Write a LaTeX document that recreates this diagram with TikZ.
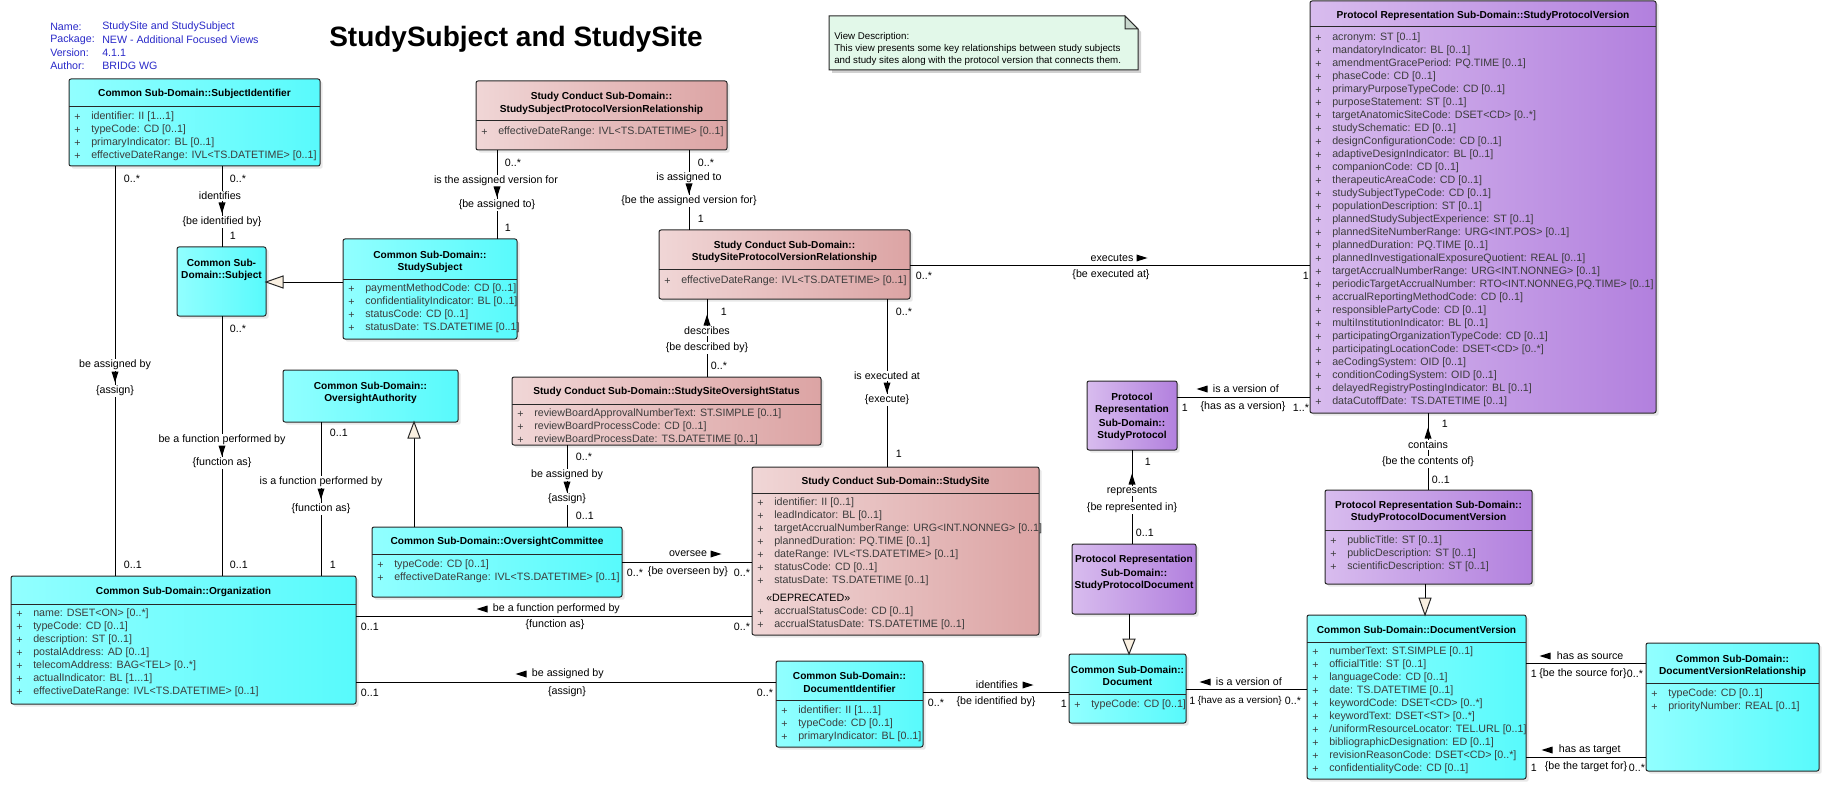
\documentclass[tikz,border=0pt]{standalone}
\usepackage{fontspec}
\setmainfont{Liberation Sans}
\usetikzlibrary{shadows}
\definecolor{cyL}{RGB}{145,255,255}
\definecolor{cyR}{RGB}{88,250,252}
\definecolor{pkL}{RGB}{240,214,214}
\definecolor{pkR}{RGB}{220,164,164}
\definecolor{puL}{RGB}{216,188,238}
\definecolor{puR}{RGB}{178,128,222}
\definecolor{bord}{RGB}{40,40,40}
\definecolor{attrc}{RGB}{60,60,60}
\definecolor{hdrblue}{RGB}{40,40,200}
\definecolor{notefill}{RGB}{226,248,233}
\definecolor{notefold}{RGB}{200,215,205}
\definecolor{genfill}{RGB}{250,240,225}
\tikzset{
 umlbase/.style={draw=bord, line width=0.75pt, rounded corners=1.5pt, inner sep=0pt, outer sep=0pt, anchor=north west, drop shadow={shadow xshift=2pt, shadow yshift=-2pt, fill=black!18}},
 cybox/.style={umlbase, left color=cyL, right color=cyR},
 pkbox/.style={umlbase, left color=pkL, right color=pkR},
 pubox/.style={umlbase, left color=puL, right color=puR},
 lbl/.style={font=\fontsize{8}{9.6}\selectfont, inner sep=0.5pt},
 ttl/.style={font=\fontsize{7.6}{9}\selectfont\bfseries, inner sep=0pt},
 att/.style={font=\fontsize{8}{9.6}\selectfont, text=attrc, inner sep=0pt, anchor=west},
 hdr/.style={anchor=west, text=hdrblue, inner sep=0pt},
 notet/.style={font=\fontsize{7.3}{9}\selectfont, anchor=west, inner sep=0pt},
 bigtitle/.style={anchor=base west, font=\fontsize{21}{25}\selectfont\bfseries, inner sep=0pt},
 vlbl/.style={fill=white},
 mult/.style={anchor=west},
 conn/.style={draw=black, line width=0.75pt},
 sepline/.style={draw=bord, line width=0.75pt},
 genarrow/.style={draw=bord, line width=0.75pt, fill=genfill},
}
\newcounter{nn}
\newcommand\tlab[3][]{\stepcounter{nn}\node[lbl,#1] (n\thenn) at (#2) {#3};}
\newcommand\umlbox[6]{\node[#6, minimum width={(#4-#2)*0.75pt}, minimum height={(#5-#3)*0.75pt}] (#1) at (#2,#3) {};}
\newcommand\umlsep[2]{\draw[sepline] (#1.west |- 0,#2) -- (#1.east |- 0,#2);}
\newcommand\umlattrs[3]{\foreach \attx [count=\i from 0] in {#3}{\tlab[att]{{#1+5},{#2+13*\i}}{+}\tlab[att]{{#1+22},{#2+13*\i}}{\attx}}}
\newcommand\umlAD[2]{\fill ({#1-3.5},{#2-5.5}) -- ({#1+3.5},{#2-5.5}) -- (#1,{#2+5.5}) -- cycle;}
\newcommand\umlAU[2]{\fill ({#1-3.5},{#2+5.5}) -- ({#1+3.5},{#2+5.5}) -- (#1,{#2-5.5}) -- cycle;}
\newcommand\umlAR[2]{\fill ({#1-5.5},{#2-3.5}) -- ({#1-5.5},{#2+3.5}) -- ({#1+5.5},#2) -- cycle;}
\newcommand\umlAL[2]{\fill ({#1+5.5},{#2-3.5}) -- ({#1+5.5},{#2+3.5}) -- ({#1-5.5},#2) -- cycle;}
\begin{document}
\begin{tikzpicture}[x=0.75pt,y=-0.75pt]
\useasboundingbox (0,0) rectangle (1830,809);
% header
\tlab[hdr]{50,27}{Name:}
\tlab[hdr]{102,27}{StudySite and StudySubject}
\tlab[hdr]{50,40}{Package:}
\tlab[hdr]{102,40}{NEW - Additional Focused Views}
\tlab[hdr]{50,53}{Version:}
\tlab[hdr]{102,53}{4.1.1}
\tlab[hdr]{50,66}{Author:}
\tlab[hdr]{102,66}{BRIDG WG}
\tlab[bigtitle]{329,47}{StudySubject and StudySite}
% note
\fill[black!18] (832,19) -- (1128,19) -- (1141,32) -- (1141,73) -- (832,73) -- cycle;
\draw[draw=bord, line width=0.75pt, fill=notefill] (829,16) -- (1125,16) -- (1138,29) -- (1138,70) -- (829,70) -- cycle;
\draw[draw=bord, line width=0.75pt, fill=notefold] (1125,16) -- (1125,29) -- (1138,29) -- cycle;
\tlab[notet]{834,37}{View Description:}
\tlab[notet]{834,49}{This view presents some key relationships between study subjects}
\tlab[notet]{834,61}{and study sites along with the protocol version that connects them.}
% SubjectIdentifier
\umlbox{si}{69}{79}{320}{166}{cybox}
\umlsep{si}{107}
\tlab[ttl]{si.north |- 0,94}{Common Sub-Domain::SubjectIdentifier}
\umlattrs{69}{117}{%
identifier: II [1..{}.1],%
typeCode: CD [0..1],%
primaryIndicator: BL [0..1],%
effectiveDateRange: IVL<TS.DATETIME> [0..1]}
% Subject
\umlbox{subj}{177}{247}{266}{316}{cybox}
\tlab[ttl]{subj.north |- 0,263}{Common Sub-}
\tlab[ttl]{subj.north |- 0,276}{Domain::Subject}
% StudySubject
\umlbox{ssub}{343}{239}{517}{339}{cybox}
\umlsep{ssub}{279}
\tlab[ttl]{ssub.north |- 0,255}{Common Sub-Domain::}
\tlab[ttl]{ssub.north |- 0,268}{StudySubject}
\umlattrs{343}{289}{%
paymentMethodCode: CD [0..1],%
confidentialityIndicator: BL [0..1],%
statusCode: CD [0..1],%
statusDate: TS.DATETIME [0..1]}
% StudySubjectProtocolVersionRelationship
\umlbox{sspvr}{476}{81}{727}{150}{pkbox}
\umlsep{sspvr}{121}
\tlab[ttl]{sspvr.north |- 0,97}{Study Conduct Sub-Domain::}
\tlab[ttl]{sspvr.north |- 0,110}{StudySubjectProtocolVersionRelationship}
\umlattrs{476}{132}{effectiveDateRange: IVL<TS.DATETIME> [0..1]}
% StudySiteProtocolVersionRelationship
\umlbox{ssitepvr}{659}{230}{910}{299}{pkbox}
\umlsep{ssitepvr}{270}
\tlab[ttl]{ssitepvr.north |- 0,246}{Study Conduct Sub-Domain::}
\tlab[ttl]{ssitepvr.north |- 0,258}{StudySiteProtocolVersionRelationship}
\umlattrs{659}{281}{effectiveDateRange: IVL<TS.DATETIME> [0..1]}
% StudyProtocolVersion
\umlbox{spv}{1310}{1}{1656}{413}{pubox}
\umlsep{spv}{27}
\tlab[ttl]{spv.north |- 0,16}{Protocol Representation Sub-Domain::StudyProtocolVersion}
\umlattrs{1310}{38}{%
acronym: ST [0..1],%
mandatoryIndicator: BL [0..1],%
amendmentGracePeriod: PQ.TIME [0..1],%
phaseCode: CD [0..1],%
primaryPurposeTypeCode: CD [0..1],%
purposeStatement: ST [0..1],%
targetAnatomicSiteCode: DSET<CD> [0..*],%
studySchematic: ED [0..1],%
designConfigurationCode: CD [0..1],%
adaptiveDesignIndicator: BL [0..1],%
companionCode: CD [0..1],%
therapeuticAreaCode: CD [0..1],%
studySubjectTypeCode: CD [0..1],%
populationDescription: ST [0..1],%
plannedStudySubjectExperience: ST [0..1],%
plannedSiteNumberRange: URG<INT.POS> [0..1],%
plannedDuration: PQ.TIME [0..1],%
plannedInvestigationalExposureQuotient: REAL [0..1],%
targetAccrualNumberRange: URG<INT.NONNEG> [0..1],%
{periodicTargetAccrualNumber: RTO<INT.NONNEG,PQ.TIME> [0..1]},%
accrualReportingMethodCode: CD [0..1],%
responsiblePartyCode: CD [0..1],%
multiInstitutionIndicator: BL [0..1],%
participatingOrganizationTypeCode: CD [0..1],%
participatingLocationCode: DSET<CD> [0..*],%
aeCodingSystem: OID [0..1],%
conditionCodingSystem: OID [0..1],%
delayedRegistryPostingIndicator: BL [0..1],%
dataCutoffDate: TS.DATETIME [0..1]}
% StudyProtocol
\umlbox{sp}{1087}{381}{1177}{450}{pubox}
\tlab[ttl]{sp.north |- 0,397}{Protocol}
\tlab[ttl]{sp.north |- 0,410}{Representation}
\tlab[ttl]{sp.north |- 0,423}{Sub-Domain::}
\tlab[ttl]{sp.north |- 0,436}{StudyProtocol}
% StudyProtocolDocument
\umlbox{spd}{1072}{544}{1196}{614}{pubox}
\tlab[ttl]{spd.north |- 0,560}{Protocol Representation}
\tlab[ttl]{spd.north |- 0,573}{Sub-Domain::}
\tlab[ttl]{spd.north |- 0,586}{StudyProtocolDocument}
% Document
\umlbox{doc}{1069}{654}{1186}{723}{cybox}
\umlsep{doc}{694}
\tlab[ttl]{doc.north |- 0,670}{Common Sub-Domain::}
\tlab[ttl]{doc.north |- 0,682}{Document}
\umlattrs{1069}{705}{typeCode: CD [0..1]}
% StudyProtocolDocumentVersion
\umlbox{spdv}{1325}{490}{1532}{584}{pubox}
\umlsep{spdv}{530}
\tlab[ttl]{spdv.north |- 0,506}{Protocol Representation Sub-Domain::}
\tlab[ttl]{spdv.north |- 0,518}{StudyProtocolDocumentVersion}
\umlattrs{1325}{541}{%
publicTitle: ST [0..1],%
publicDescription: ST [0..1],%
scientificDescription: ST [0..1]}
% DocumentVersion
\umlbox{dv}{1307}{615}{1526}{779}{cybox}
\umlsep{dv}{642}
\tlab[ttl]{dv.north |- 0,630}{Common Sub-Domain::DocumentVersion}
\umlattrs{1307}{652}{%
numberText: ST.SIMPLE [0..1],%
officialTitle: ST [0..1],%
languageCode: CD [0..1],%
date: TS.DATETIME [0..1],%
keywordCode: DSET<CD> [0..*],%
keywordText: DSET<ST> [0..*],%
/uniformResourceLocator: TEL.URL [0..1],%
bibliographicDesignation: ED [0..1],%
revisionReasonCode: DSET<CD> [0..*],%
confidentialityCode: CD [0..1]}
% DocumentVersionRelationship
\umlbox{dvr}{1646}{643}{1819}{771}{cybox}
\umlsep{dvr}{683}
\tlab[ttl]{dvr.north |- 0,659}{Common Sub-Domain::}
\tlab[ttl]{dvr.north |- 0,672}{DocumentVersionRelationship}
\umlattrs{1646}{694}{%
typeCode: CD [0..1],%
priorityNumber: REAL [0..1]}
% StudySite
\umlbox{site}{752}{467}{1039}{635}{pkbox}
\umlsep{site}{493}
\tlab[ttl]{site.north |- 0,482}{Study Conduct Sub-Domain::StudySite}
\umlattrs{752}{503}{%
identifier: II [0..1],%
leadIndicator: BL [0..1],%
targetAccrualNumberRange: URG<INT.NONNEG> [0..1],%
plannedDuration: PQ.TIME [0..1],%
dateRange: IVL<TS.DATETIME> [0..1],%
statusCode: CD [0..1],%
statusDate: TS.DATETIME [0..1]}
\tlab[anchor=west, inner sep=0pt]{766,598}{«DEPRECATED»}
\umlattrs{752}{612}{%
accrualStatusCode: CD [0..1],%
accrualStatusDate: TS.DATETIME [0..1]}
% StudySiteOversightStatus
\umlbox{ssos}{512}{377}{821}{445}{pkbox}
\umlsep{ssos}{404}
\tlab[ttl]{ssos.north |- 0,392}{Study Conduct Sub-Domain::StudySiteOversightStatus}
\umlattrs{512}{414}{%
reviewBoardApprovalNumberText: ST.SIMPLE [0..1],%
reviewBoardProcessCode: CD [0..1],%
reviewBoardProcessDate: TS.DATETIME [0..1]}
% OversightAuthority
\umlbox{oa}{283}{370}{458}{422}{cybox}
\tlab[ttl]{oa.north |- 0,386}{Common Sub-Domain::}
\tlab[ttl]{oa.north |- 0,399}{OversightAuthority}
% OversightCommittee
\umlbox{oc}{372}{527}{622}{597}{cybox}
\umlsep{oc}{554}
\tlab[ttl]{oc.north |- 0,542}{Common Sub-Domain::OversightCommittee}
\umlattrs{372}{565}{%
typeCode: CD [0..1],%
effectiveDateRange: IVL<TS.DATETIME> [0..1]}
% Organization
\umlbox{org}{11}{576}{356}{704}{cybox}
\umlsep{org}{604}
\tlab[ttl]{org.north |- 0,592}{Common Sub-Domain::Organization}
\umlattrs{11}{614}{%
name: DSET<ON> [0..*],%
typeCode: CD [0..1],%
description: ST [0..1],%
postalAddress: AD [0..1],%
telecomAddress: BAG<TEL> [0..*],%
actualIndicator: BL [1..{}.1],%
effectiveDateRange: IVL<TS.DATETIME> [0..1]}
% DocumentIdentifier
\umlbox{docid}{776}{661}{923}{747}{cybox}
\umlsep{docid}{700}
\tlab[ttl]{docid.north |- 0,676}{Common Sub-Domain::}
\tlab[ttl]{docid.north |- 0,689}{DocumentIdentifier}
\umlattrs{776}{711}{%
identifier: II [1..{}.1],%
typeCode: CD [0..1],%
primaryIndicator: BL [0..1]}

% ---------- generalizations
\draw[conn] (ssub.west |- 0,282) -- (subj.east |- 0,282);
\draw[genarrow] (subj.east |- 0,282) -- ++(17,-6) -- ++(0,12) -- cycle;
\draw[conn] (oc.north -| 414,0) -- (oa.south -| 414,0);
\draw[genarrow] (oa.south -| 414,0) -- ++(-6,16) -- ++(12,0) -- cycle;
\draw[conn] (spd.south -| 1129,0) -- (doc.north -| 1129,0);
\draw[genarrow] (doc.north -| 1129,0) -- ++(-6,-15) -- ++(12,0) -- cycle;
\draw[conn] (spdv.south -| 1425,0) -- (dv.north -| 1425,0);
\draw[genarrow] (dv.north -| 1425,0) -- ++(-6,-17) -- ++(12,0) -- cycle;

% ---------- associations
% SubjectIdentifier - Organization
\draw[conn] (si.south -| 115,0) -- (org.north -| 115,0);
\tlab[mult]{123,179}{0..*}
\tlab[vlbl]{115,365}{be assigned by}
\tlab[vlbl]{115,391}{\{assign\}}
\umlAD{115}{377}
\tlab[mult]{123,565}{0..1}
% SubjectIdentifier - Subject
\draw[conn] (si.south -| 222,0) -- (subj.north -| 222,0);
\tlab[mult]{229,179}{0..*}
\tlab[vlbl]{220,196}{identifies}
\tlab[vlbl]{222,222}{\{be identified by\}}
\umlAD{222}{208}
\tlab[mult]{229,236}{1}
% Subject - Organization
\draw[conn] (subj.south -| 222,0) -- (org.north -| 222,0);
\tlab[mult]{229,329}{0..*}
\tlab[vlbl]{222,440}{be a function performed by}
\tlab[vlbl]{222,463}{\{function as\}}
\umlAD{222}{451}
\tlab[mult]{229,565}{0..1}
% OversightAuthority - Organization
\draw[conn] (oa.south -| 321,0) -- (org.north -| 321,0);
\tlab[mult]{329,433}{0..1}
\tlab[vlbl]{321,482}{is a function performed by}
\tlab[vlbl]{321,509}{\{function as\}}
\umlAD{321}{494}
\tlab[mult]{329,565}{1}
% SSPVR - StudySubject
\draw[conn] (sspvr.south -| 497,0) -- (ssub.north -| 497,0);
\tlab[mult]{504,163}{0..*}
\tlab[vlbl]{496,181}{is the assigned version for}
\tlab[vlbl]{497,205}{\{be assigned to\}}
\umlAD{497}{192}
\tlab[mult]{504,228}{1}
% SSPVR - SSitePVR
\draw[conn] (sspvr.south -| 689,0) -- (ssitepvr.north -| 689,0);
\tlab[mult]{697,163}{0..*}
\tlab[vlbl]{689,178}{is assigned to}
\tlab[vlbl]{689,201}{\{be the assigned version for\}}
\umlAD{689}{189}
\tlab[mult]{697,219}{1}
% SSitePVR - StudyProtocolVersion
\draw[conn] (ssitepvr.east |- 0,266) -- (spv.west |- 0,266);
\tlab{1112,258}{executes}
\umlAR{1142}{258}
\tlab{1111,275}{\{be executed at\}}
\tlab[mult]{915,276}{0..*}
\tlab[mult]{1302,276}{1}
% SSitePVR - StudySiteOversightStatus
\draw[conn] (ssitepvr.south -| 707,0) -- (ssos.north -| 707,0);
\tlab[mult]{720,312}{1}
\tlab[vlbl]{707,331}{describes}
\tlab[vlbl]{707,348}{\{be described by\}}
\umlAU{707}{320}
\tlab[mult]{710,366}{0..*}
% SSitePVR - StudySite
\draw[conn] (ssitepvr.south -| 887,0) -- (site.north -| 887,0);
\tlab[mult]{895,312}{0..*}
\tlab[vlbl]{887,376}{is executed at}
\tlab[vlbl]{887,400}{\{execute\}}
\umlAD{887}{388}
\tlab[mult]{895,454}{1}
% SSOS - OversightCommittee
\draw[conn] (ssos.south -| 567,0) -- (oc.north -| 567,0);
\tlab[mult]{575,457}{0..*}
\tlab[vlbl]{567,475}{be assigned by}
\tlab[vlbl]{567,499}{\{assign\}}
\umlAD{567}{487}
\tlab[mult]{575,516}{0..1}
% OversightCommittee - StudySite
\draw[conn] (oc.east |- 0,562) -- (site.west |- 0,562);
\tlab{688,554}{oversee}
\umlAR{716}{554}
\tlab{688,572}{\{be overseen by\}}
\tlab[mult]{626,573}{0..*}
\tlab[mult]{733,573}{0..*}
% Organization - StudySite
\draw[conn] (org.east |- 0,616) -- (site.west |- 0,616);
\umlAL{482}{609}
\tlab[anchor=west]{492,609}{be a function performed by}
\tlab{555,625}{\{function as\}}
\tlab[mult]{360,627}{0..1}
\tlab[mult]{733,627}{0..*}
% Organization - DocumentIdentifier
\draw[conn] (org.east |- 0,682) -- (docid.west |- 0,682);
\umlAL{521}{674}
\tlab[anchor=west]{531,674}{be assigned by}
\tlab{567,692}{\{assign\}}
\tlab[mult]{360,693}{0..1}
\tlab[mult]{756,693}{0..*}
% DocumentIdentifier - Document
\draw[conn] (docid.east |- 0,692) -- (doc.west |- 0,692);
\tlab{997,685}{identifies}
\umlAR{1028}{685}
\tlab{996,702}{\{be identified by\}}
\tlab[mult]{927,703}{0..*}
\tlab[mult]{1060,704}{1}
% Document - DocumentVersion
\draw[conn] (doc.east |- 0,689) -- (dv.west |- 0,689);
\umlAL{1205}{682}
\tlab[anchor=west]{1215,682}{is a version of}
\tlab[anchor=east, inner sep=0pt, font=\fontsize{7.4}{9}\selectfont]{1282,701}{\{have as a version\}}
\tlab[mult, inner sep=0pt]{1189,701}{1}
\tlab[mult]{1284,701}{0..*}
% StudyProtocol - StudyProtocolVersion
\draw[conn] (sp.east |- 0,397) -- (spv.west |- 0,397);
\umlAL{1202}{389}
\tlab[anchor=west]{1212,389}{is a version of}
\tlab[mult]{1181,408}{1}
\tlab{1243,407}{\{has as a version\}}
\tlab[mult]{1292,408}{1..*}
% StudyProtocol - StudyProtocolDocument
\draw[conn] (sp.south -| 1132,0) -- (spd.north -| 1132,0);
\tlab[mult]{1144,462}{1}
\tlab[vlbl]{1132,491}{represents}
\tlab[vlbl]{1132,508}{\{be represented in\}}
\umlAU{1132}{479}
\tlab[mult]{1135,533}{0..1}
% StudyProtocolVersion - StudyProtocolDocumentVersion
\draw[conn] (spv.south -| 1428,0) -- (spdv.north -| 1428,0);
\tlab[mult]{1441,424}{1}
\tlab[vlbl]{1428,445}{contains}
\tlab[vlbl]{1428,462}{\{be the contents of\}}
\umlAU{1428}{433}
\tlab[mult]{1431,480}{0..1}
% DocumentVersion - DocumentVersionRelationship (source)
\draw[conn] (dv.east |- 0,663) -- (dvr.west |- 0,663);
\umlAL{1545}{656}
\tlab[anchor=west]{1556,656}{has as source}
\tlab[mult]{1530,674}{1}
\tlab{1583,674}{\{be the source for\}}
\tlab[mult]{1626,674}{0..*}
% DocumentVersion - DocumentVersionRelationship (target)
\draw[conn] (dv.east |- 0,757) -- (dvr.west |- 0,757);
\umlAL{1547}{750}
\tlab[anchor=west]{1558,750}{has as target}
\tlab[mult]{1530,768}{1}
\tlab{1586,767}{\{be the target for\}}
\tlab[mult]{1628,768}{0..*}
\end{tikzpicture}
\end{document}
